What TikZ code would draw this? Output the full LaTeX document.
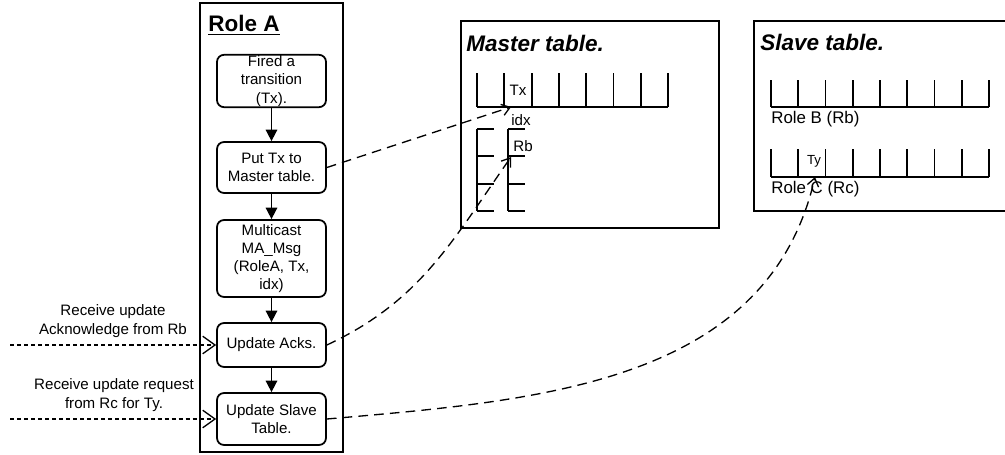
\documentclass[tikz,border=0pt]{standalone}
\usepackage{fontspec}
\setmainfont{Liberation Sans}
\usetikzlibrary{arrows.meta}
\begin{document}
\begin{tikzpicture}[x=0.02cm,y=-0.02cm,
  stepbox/.style={draw, line width=1pt, rounded corners=4pt, minimum width=2.18cm,
    align=center, inner sep=0.5pt, font=\fontsize{8.6}{10.4}\selectfont},
  flow/.style={-{Triangle[length=6.5pt,width=6.5pt]}, line width=0.9pt},
  frame/.style={draw, line width=1pt},
  cell/.style={line width=1.1pt},
  link/.style={dash pattern=on 5.5pt off 3.5pt, line width=0.75pt,
    -{Straight Barb[length=4.5pt,width=6.5pt]}},
  incoming/.style={dash pattern=on 2.3pt off 1.7pt, line width=0.75pt,
    -{Straight Barb[length=7pt,width=10pt]}},
  lbl/.style={font=\fontsize{8.6}{10.4}\selectfont, align=center, inner sep=0pt},
  celltext/.style={font=\fontsize{8.6}{10}\selectfont, inner sep=0pt},
  rowname/.style={font=\fontsize{9.6}{11}\selectfont, anchor=west, inner sep=0pt},
  tabletitle/.style={font=\fontsize{12.8}{14}\selectfont\bfseries\itshape, anchor=west, inner sep=0pt},
]
\useasboundingbox (0,0) rectangle (1005,454);

% ---- Role A swimlane ----
\draw[frame] (200,3) rectangle (343,452);
\node[font=\fontsize{12.8}{14}\selectfont\bfseries, inner sep=0pt] (roleA) at (244,25) {\underline{Role A}};

\node[stepbox, minimum height=1.04cm] (b1) at (271.5,81) {Fired a\\transition\\(Tx).};
\node[stepbox, minimum height=1.02cm] (b2) at (271.5,167.5) {Put Tx to\\Master table.};
\node[stepbox, minimum height=1.54cm] (b3) at (271.5,258.5) {Multicast\\MA\_Msg\\(RoleA, Tx,\\idx)};
\node[stepbox, minimum height=0.88cm] (b4) at (271.5,345) {Update Acks.};
\node[stepbox, minimum height=1.04cm] (b5) at (271.5,419) {Update Slave\\Table.};

\draw[flow] (b1) -- (b2);
\draw[flow] (b2) -- (b3);
\draw[flow] (b3) -- (b4);
\draw[flow] (b4) -- (b5);

% ---- incoming messages ----
\node[lbl] (ackl) at (113,321) {Receive update\\Acknowledge from Rb};
\node[lbl] (reql) at (114,395) {Receive update request\\from Rc for Ty.};
\coordinate (ackin) at (10,345);
\coordinate (reqin) at (10,419);
\draw[incoming] (ackin) -- (b4.west);
\draw[incoming] (reqin) -- (b5.west);

% ---- Master table ----
\draw[frame] (461,21) rectangle (719,228);
\node[tabletitle] (mtitle) at (466,43) {Master table.};
\foreach \i in {0,...,7}
  \draw[cell] ({477+27.3*\i},73) -- ({477+27.3*\i},107);
\draw[cell] (477,107) -- (668.1,107);
\node[celltext] (tx) at (518,90) {Tx};
\node[celltext] (idx) at (521,120) {idx};
\foreach \cx in {477,508} {
  \draw[cell] (\cx,129) -- (\cx,211);
  \foreach \cy in {129,156.3,183.6,211}
    \draw[cell] (\cx,\cy) -- (\cx+17,\cy);
}
\node[celltext] (rb) at (523,146) {Rb};
\coordinate (txin) at (511,107);
\coordinate (rbin) at (511,157);

% ---- Slave table ----
\draw[frame] (1010,21) -- (754,21) -- (754,211) -- (1010,211);
\node[tabletitle] (stitle) at (760,42) {Slave table.};
\foreach \top/\bot in {80/107,149/177} {
  \foreach \i in {0,...,8}
    \draw[cell] ({771+27.25*\i},\top) -- ({771+27.25*\i},\bot);
  \draw[cell] (771,\bot) -- (989,\bot);
}
\node[rowname] (rowB) at (771,119) {Role B (Rb)};
\node[rowname] (rowC) at (771,189) {Role C (Rc)};
\node[font=\fontsize{7.5}{9}\selectfont, inner sep=0pt] (ty) at (814,161) {Ty};
\coordinate (tyin) at (815,177);

% ---- updates written into the tables ----
\draw[link] (b2.east) -- (txin);
\draw[link] (b4.east) to[out=25,in=-125] (rbin);
\draw[link] (b5.east) to[out=5,in=-103] (tyin);
\end{tikzpicture}
\end{document}
